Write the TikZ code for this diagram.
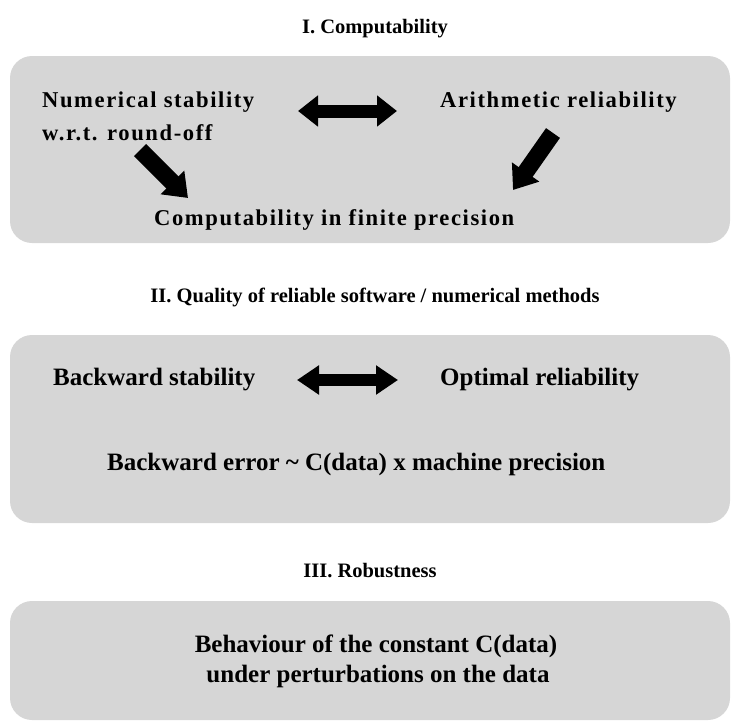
\documentclass[tikz,border=0pt]{standalone}
\usepackage{fontspec}
\setmainfont{Liberation Serif}
\newfontfamily\spacedfont[LetterSpace=7]{Liberation Serif}
\usetikzlibrary{arrows.meta}
\definecolor{panelgray}{RGB}{214,214,214}
\begin{document}
\begin{tikzpicture}[x=1pt,y=1pt,
  panel/.style={fill=panelgray, draw=none, rounded corners=22pt, inner sep=0pt, minimum width=720pt},
  title/.style={font=\bfseries\fontsize{20.5}{24}\selectfont, inner sep=0pt, anchor=base},
  lblone/.style={font=\spacedfont\bfseries\fontsize{22.6}{27}\selectfont, inner sep=0pt, anchor=base west},
  lbltwo/.style={font=\bfseries\fontsize{25}{30}\selectfont, inner sep=0pt, anchor=base west},
  lblthree/.style={font=\bfseries\fontsize{25}{30}\selectfont, inner sep=0pt, anchor=base},
  fatdouble/.style={draw=black, line width=13pt, {Triangle[width=30pt,length=20pt]}-{Triangle[width=30pt,length=20pt]}},
  fatsingle/.style={draw=black, line width=17pt, -{Triangle[width=32pt,length=22pt]}}
]
\useasboundingbox (0,0) rectangle (733,-723);

% panels
\node[panel, minimum height=187pt] (box1) at (370,-149.5) {};
\node[panel, minimum height=188pt] (box2) at (370,-429) {};
\node[panel, minimum height=119pt] (box3) at (370,-660.5) {};

% titles
\node[title] (t1) at (375,-33) {I. Computability};
\node[title] (t2) at (375,-302) {II. Quality of reliable software / numerical methods};
\node[title] (t3) at (370,-577) {III. Robustness};

% box 1
\node[lblone] (num) at (42,-107) {Numerical stability};
\node[lblone] (wrt) at (42,-140) {w.r.t. round-off};
\node[lblone] (arith) at (440,-107) {Arithmetic reliability};
\node[lblone] (comp) at (154,-225) {Computability in finite precision};

\coordinate (d1l) at (298,-111);
\coordinate (d1r) at (397,-111);
\draw[fatdouble] (d1l) -- (d1r);

\coordinate (la) at (140,-150);
\coordinate (lb) at (188,-198);
\draw[fatsingle] (la) -- (lb);

\coordinate (ra) at (553,-133);
\coordinate (rb) at (513,-190);
\draw[fatsingle] (ra) -- (rb);

% box 2
\node[lbltwo] (bstab) at (53,-385) {Backward stability};
\node[lbltwo] (optr) at (440,-385) {Optimal reliability};
\node[lbltwo] (berr) at (107,-470) {Backward error \textasciitilde{} C(data) x machine precision};

\coordinate (d2l) at (297,-380);
\coordinate (d2r) at (398,-380);
\draw[draw=black, line width=12pt, {Triangle[width=28pt,length=22pt]}-{Triangle[width=28pt,length=22pt]}] (d2l) -- (d2r);

% box 3
\node[lblthree] (beh1) at (376,-652) {Behaviour of the constant C(data)};
\node[lblthree] (beh2) at (378,-682) {under perturbations on the data};
\end{tikzpicture}
\end{document}
